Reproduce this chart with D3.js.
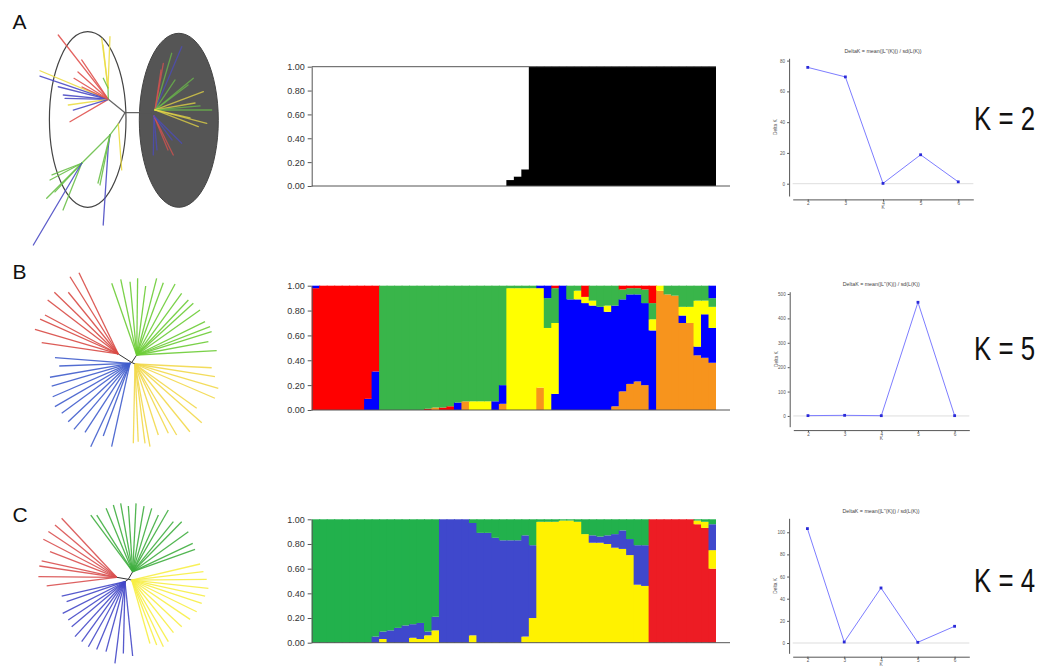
<!DOCTYPE html>
<html>
<head>
<meta charset="utf-8">
<script src="https://cdn.jsdelivr.net/npm/d3@7"></script>
<style>
  body { margin: 0; background: #fff; }
  svg { display: block; }
  text { font-family: "Liberation Sans", Arial, sans-serif; }
</style>
</head>
<body>
<svg id="fig" width="1040" height="666"></svg>
<script>
// ---------------- data ----------------
const panelLetters = ["A", "B", "C"];
const bestK = ["K = 2", "K = 5", "K = 4"];
const deltaTitle = "DeltaK = mean(|L''(K)|) / sd(L(K))";

// Evanno delta-K per number of clusters
const kValues = [2, 3, 4, 5, 6];
const deltaK_A = [75.6, 69.4, 0.2, 18.8, 1.2];
const deltaK_B = [1.4, 2.6, 1.2, 466, 1.3];
const deltaK_C = [103.3, 0.9, 49.7, 0.6, 15.1];
const deltaTicks_A = [0, 20, 40, 60, 80];
const deltaTicks_B = [0, 100, 200, 300, 400, 500];
const deltaTicks_C = [0, 20, 40, 60, 80, 100];

// membership coefficient axis
const qTicks = [0, 0.2, 0.4, 0.6, 0.8, 1.0];

// cluster colours
const colorsA = ["#ffffff", "#000000"];
const colorsB = ["#ff0000", "#39b54a", "#ffff00", "#0000ff", "#f7941d"];
const colorsC = ["#22b14c", "#3f48cc", "#fff200", "#ed1c24"];

// K = 2: membership in cluster 2 (black) for 54 individuals
const cluster2_A = [
  0, 0, 0, 0, 0, 0, 0, 0, 0, 0, 0, 0, 0, 0, 0, 0, 0, 0, 0, 0, 0, 0, 0, 0, 0, 0,
  0.05, 0.08, 0.14,
  1, 1, 1, 1, 1, 1, 1, 1, 1, 1, 1, 1, 1, 1, 1, 1, 1, 1, 1, 1, 1, 1, 1, 1, 1
];

// K = 5: [cluster, proportion] stacked from the bottom
// clusters: 0 red, 1 green, 2 yellow, 3 blue, 4 orange
const q_B = [
  [[0, .98], [3, .02]], [[0, 1]], [[0, 1]], [[0, 1]], [[0, 1]], [[0, 1]], [[0, 1]],
  [[3, .09], [0, .91]], [[3, .31], [0, .69]],
  [[1, 1]], [[1, 1]], [[1, 1]], [[1, 1]], [[1, 1]], [[1, 1]],
  [[0, .01], [1, .99]], [[4, .02], [1, .98]], [[0, .02], [1, .98]], [[0, .03], [1, .97]],
  [[3, .06], [1, .94]], [[4, .07], [1, .93]], [[2, .07], [1, .93]], [[2, .07], [1, .93]],
  [[2, .07], [1, .93]], [[3, .07], [1, .93]], [[4, .05], [3, .15], [1, .80]],
  [[2, .98], [1, .02]], [[2, .98], [1, .02]], [[2, .98], [1, .02]], [[2, .98], [1, .02]],
  [[4, .18], [2, .80], [3, .02]], [[2, .66], [1, .24], [3, .10]],
  [[3, .13], [2, .57], [1, .28], [0, .02]],
  [[3, 1]], [[3, .89], [1, .11]], [[3, .89], [2, .07], [1, .04]], [[3, .86], [2, .05], [0, .09]],
  [[3, .84], [2, .04], [1, .12]], [[3, .83], [1, .17]], [[3, .79], [2, .05], [1, .16]],
  [[4, .03], [3, .81], [1, .16]], [[4, .15], [3, .74], [1, .08], [0, .03]],
  [[4, .21], [3, .72], [1, .05], [0, .02]], [[4, .23], [3, .70], [1, .05], [0, .02]],
  [[4, .20], [3, .66], [1, .11], [0, .03]], [[3, .64], [2, .09], [1, .13], [0, .14]],
  [[4, .96], [2, .04]], [[4, .93], [1, .07]], [[4, .92], [1, .08]],
  [[4, .70], [3, .06], [2, .07], [1, .17]], [[4, .70], [2, .13], [1, .17]],
  [[4, .44], [3, .07], [2, .37], [1, .12]], [[4, .42], [3, .35], [2, .11], [1, .12]],
  [[4, .38], [3, .28], [2, .17], [1, .07], [3, .10]]
];

// K = 4: clusters 0 green, 1 blue, 2 yellow, 3 red
const q_C = [
  [[0, 1]], [[0, 1]], [[0, 1]], [[0, 1]], [[0, 1]], [[0, 1]], [[0, 1]], [[0, 1]],
  [[1, .05], [0, .95]], [[2, .03], [1, .06], [0, .91]], [[1, .10], [0, .90]],
  [[1, .12], [0, .88]], [[1, .14], [0, .86]], [[2, .04], [1, .11], [0, .85]],
  [[2, .03], [1, .13], [0, .84]], [[2, .06], [1, .03], [0, .91]], [[2, .10], [1, .11], [0, .79]],
  [[1, 1]], [[1, 1]], [[1, 1]], [[1, 1]],
  [[2, .06], [1, .91], [0, .03]], [[1, .89], [0, .11]], [[1, .89], [0, .11]],
  [[1, .85], [0, .15]], [[1, .83], [0, .17]], [[1, .83], [0, .17]], [[1, .83], [0, .17]],
  [[2, .05], [1, .82], [0, .13]], [[2, .20], [1, .59], [0, .21]],
  [[2, .98], [0, .02]], [[2, .98], [0, .02]], [[2, .98], [0, .02]], [[2, .99], [0, .01]],
  [[2, .99], [0, .01]], [[2, .98], [0, .02]],
  [[2, .88], [0, .12]], [[2, .81], [1, .06], [0, .13]], [[2, .81], [1, .05], [0, .14]],
  [[2, .80], [1, .07], [0, .13]], [[2, .77], [1, .11], [0, .12]], [[2, .76], [1, .15], [0, .09]],
  [[2, .71], [1, .13], [0, .16]], [[2, .47], [1, .32], [0, .21]], [[2, .46], [1, .33], [0, .21]],
  [[3, 1]], [[3, 1]], [[3, 1]], [[3, 1]], [[3, 1]], [[3, 1]],
  [[3, .96], [2, .03], [0, .01]], [[3, .93], [2, .05], [0, .02]],
  [[3, .60], [2, .15], [1, .21], [0, .04]]
];

// Neighbour-joining tree A: [parent node, angle (deg), branch length, group]
const treeA_edges = [
  [0, 0, 26.7, "k"], [0, 141.3, 21.4, "k"], [0, 239.3, 13.1, "k"],
  [3, 232.9, 13.8, "g"], [4, 225, 40, "g"],
  [5, 207.8, 35.8, "g"], [5, 225, 49.5, "g"], [5, 201.5, 31.9, "g"], [5, 227, 39.2, "g"],
  [5, 248.2, 50.3, "g"], [5, 239.4, 95, "b"],
  [4, 261.7, 11.8, "b"], [12, 266.3, 78.5, "b"], [4, 258.7, 51, "g"], [4, 256, 49.5, "g"],
  [3, 274.2, 46.1, "y"],
  [2, 127.9, 81.5, "r"], [2, 124.1, 47.5, "r"], [2, 148.5, 40.2, "r"], [2, 138, 40.8, "r"],
  [2, 210.3, 44.4, "r"], [2, 157.3, 74, "y"], [2, 161.2, 72.2, "b"], [2, 165.9, 51.6, "b"],
  [2, 174.5, 45.2, "b"], [2, 178.7, 43.3, "b"], [2, 188.1, 40.4, "y"], [2, 197, 36.6, "b"],
  [2, 91.5, 11.3, "g"], [29, 97.2, 50.1, "y"], [29, 87.8, 51.3, "y"], [29, 96.6, 43.3, "y"],
  [29, 115.8, 10.8, "g"], [2, 154.9, 29, "r"],
  [1, 39.3, 4.3, "k"], [1, 304.9, 4, "k"],
  [35, 73.6, 59.1, "g"], [35, 67.1, 68.7, "b"], [35, 79.9, 47.4, "r"], [35, 81.5, 40.4, "r"],
  [35, 56.3, 36.1, "g"], [35, 39.6, 49.7, "g"], [35, 37.1, 41.4, "g"], [35, 20.8, 51.7, "y"],
  [35, 9.9, 40.6, "y"], [35, 0, 56.7, "g"], [35, 5.1, 45.2, "g"], [35, 345.6, 53.4, "y"],
  [35, 338.9, 46.4, "y"], [35, 347.1, 35.9, "y"],
  [36, 269, 39, "b"], [36, 275, 34.1, "b"], [36, 296.3, 43.5, "r"], [36, 292.4, 36.8, "r"],
  [36, 315.4, 38.9, "b"], [36, 306.9, 30, "b"]
];

// Star-like trees B and C: hub [angle, length] and leaves [angle, length] per group
const treeB_hubs = { r: [147.6, 15.9], g: [56.3, 9], b: [205, 1.9], y: [335.6, 3.6] };
const treeB_red = [[115.8, 90.3], [122, 91.1], [129, 79.4], [136, 88.9], [142.6, 88.9],
  [152, 83], [156, 85.6], [163.5, 86.9], [171.6, 77.4]];
const treeB_green = [[109.2, 75.9], [101.9, 77.4], [95.2, 73.6], [89.3, 76.7], [82.6, 69.6],
  [75.4, 79.2], [69.8, 77.1], [61.6, 80.7], [53.9, 76.3], [46.8, 75.5], [42.4, 76.7],
  [35.4, 77.7], [26, 76], [21.1, 78.6], [17.3, 78.5], [10.5, 72.9], [3.1, 80.1]];
const treeB_blue = [[175.7, 75.2], [182.2, 70.8], [189.9, 81.2], [196.2, 81.5], [203.4, 84.2],
  [210, 86.7], [216.2, 84.6], [223.4, 85], [229.7, 86.6], [236.9, 82.4], [244.8, 92.2],
  [249.8, 77.4], [257.6, 85.4]];
const treeB_yellow = [[357.2, 76.8], [351, 81], [343.7, 86.8], [336.8, 87], [324.3, 76],
  [318.7, 88.9], [309, 87.2], [300.4, 82.3], [295.7, 76.9], [288.2, 74.7], [280.3, 84],
  [277.2, 80], [272.4, 77.8], [268.8, 79.3]];

const treeC_hubs = { r: [170.2, 11.8], g: [59.9, 8.8], b: [216, 4.1], y: [348, 3.5] };
const treeC_red = [[133, 80.7], [139.7, 80.9], [146.2, 82.2], [152.6, 82.6], [159, 71.4],
  [167.7, 76.8], [171.7, 78.2], [179.5, 78.3], [187, 70.5]];
const treeC_green = [[126.5, 70.5], [122.4, 67.1], [112.8, 68.7], [106.2, 69.4], [100, 69.4],
  [93.8, 65.8], [87.2, 68.4], [80.2, 66.6], [73.3, 66.1], [65.6, 62.2], [60, 71.2],
  [50.9, 64.5], [45.6, 70], [35.7, 68.5], [25.3, 66.4], [19.7, 66.2]];
const treeC_blue = [[192.8, 64.9], [198.9, 61.7], [207, 69.9], [214, 68.4], [220.2, 69.8],
  [227.7, 74.3], [234.2, 74], [240.6, 74.6], [247.3, 73.4], [254.8, 72.5], [263, 82.3],
  [268.7, 71.7], [275.9, 74.7]];
const treeC_yellow = [[13.2, 70.2], [6.6, 72.2], [0.5, 75], [353.8, 77.1], [347.7, 75.1],
  [341.6, 73.8], [334, 72.3], [326, 70.4], [317, 68.4], [308.4, 67.2], [300.7, 71.7],
  [295.4, 73.8], [291, 69.6], [286, 66]];

// ---------------- drawing ----------------
const svg = d3.select("#fig");
const rad = Math.PI / 180;
const branch = d3.scaleLinear().domain([0, 100]).range([0, 100]);
const polar = (p, a, l) => [p[0] + branch(l) * Math.cos(a * rad), p[1] - branch(l) * Math.sin(a * rad)];

// panel letters
const letterY = [29, 278.5, 521.5];
svg.selectAll("text.panel").data(panelLetters).join("text")
  .attr("class", "panel").attr("x", 12.5).attr("y", (d, i) => letterY[i])
  .attr("font-size", 21).attr("fill", "#111").text(d => d);

// ---- tree A ----
const treeAColors = { r: "#e0524f", y: "#ebdd45", b: "#4b4bc4", g: "#6cc04a", k: "#555" };
const gA = svg.append("g");
gA.append("ellipse").attr("cx", 87.7).attr("cy", 119.5).attr("rx", 38.3).attr("ry", 87.8)
  .attr("fill", "none").attr("stroke", "#444").attr("stroke-width", 1.2);
gA.append("ellipse").attr("cx", 178.8).attr("cy", 120.3).attr("rx", 39.5).attr("ry", 87)
  .attr("fill", "#555").attr("stroke", "#444").attr("stroke-width", 1);
const nodesA = [[125, 112.7]];
const segsA = [];
treeA_edges.forEach(([p, a, l, grp]) => {
  const from = nodesA[p];
  const to = polar(from, a, l);
  nodesA.push(to);
  segsA.push({ from, to, grp, right: from[0] > 140 || p === 1 });
});
gA.selectAll("line").data(segsA).join("line")
  .attr("x1", d => d.from[0]).attr("y1", d => d.from[1])
  .attr("x2", d => d.to[0]).attr("y2", d => d.to[1])
  .attr("stroke", d => treeAColors[d.grp])
  .attr("stroke-opacity", d => d.right && d.grp !== "k" ? 0.72 : 0.9)
  .attr("stroke-width", 1.3).attr("stroke-linecap", "round");

// ---- star trees ----
function starTree(center, hubs, groups, colors) {
  const g = svg.append("g");
  Object.keys(groups).forEach(k => {
    const hub = polar(center, hubs[k][0], hubs[k][1]);
    g.append("line").attr("x1", center[0]).attr("y1", center[1])
      .attr("x2", hub[0]).attr("y2", hub[1]).attr("stroke", "#333").attr("stroke-width", 1);
    g.selectAll(null).data(groups[k]).join("line")
      .attr("x1", hub[0]).attr("y1", hub[1])
      .attr("x2", d => polar(hub, d[0], d[1])[0]).attr("y2", d => polar(hub, d[0], d[1])[1])
      .attr("stroke", colors[k]).attr("stroke-width", 1.3).attr("stroke-opacity", 0.9);
  });
}
starTree([131.7, 362.5], treeB_hubs,
  { r: treeB_red, g: treeB_green, b: treeB_blue, y: treeB_yellow },
  { r: "#d84a45", g: "#6ccc35", b: "#3f5ccc", y: "#f2d84a" });
starTree([128.3, 579.3], treeC_hubs,
  { r: treeC_red, g: treeC_green, b: treeC_blue, y: treeC_yellow },
  { r: "#d95050", g: "#3fae3f", b: "#4448c8", y: "#f7ee45" });

// ---- STRUCTURE bar plots ----
const barX = d3.scaleBand().domain(d3.range(54)).range([311.7, 716]);
function structurePlot(rows, colors, top, bottom, topLine) {
  const y = d3.scaleLinear().domain([0, 1]).range([bottom, top]).clamp(true);
  const g = svg.append("g");
  const rects = [];
  rows.forEach((segs, i) => {
    let acc = 0;
    segs.forEach(([c, v]) => { rects.push({ i, c, y0: acc, y1: acc + v }); acc += v; });
  });
  const last = rows.length - 1;
  g.selectAll("rect").data(rects).join("rect")
    .attr("x", d => barX(d.i))
    .attr("width", d => barX.bandwidth() + (d.i === last ? 0 : 1))
    .attr("y", d => y(d.y1)).attr("height", d => Math.max(0, y(d.y0) - y(d.y1)))
    .attr("fill", d => colors[d.c]);
  if (topLine) {
    g.append("line").attr("x1", 311.7).attr("x2", 716).attr("y1", y(1)).attr("y2", y(1))
      .attr("stroke", "#555").attr("stroke-width", 1);
  }
  g.append("line").attr("x1", 311.7).attr("x2", 730).attr("y1", y(0)).attr("y2", y(0))
    .attr("stroke", "#555").attr("stroke-width", 1);
  const ax = g.append("g").attr("transform", "translate(311.7,0)")
    .call(d3.axisLeft(y).tickValues(qTicks).tickFormat(d3.format(".2f")).tickSize(4).tickSizeOuter(0));
  ax.select(".domain").attr("stroke", "#555");
  ax.selectAll(".tick line").attr("stroke", "#555");
  ax.selectAll(".tick text").attr("font-size", 9).attr("fill", "#333")
    .attr("font-family", "Liberation Sans, Arial, sans-serif").attr("x", -7);
}
structurePlot(cluster2_A.map(v => [[1, v], [0, 1 - v]]), colorsA, 66.7, 186, true);
structurePlot(q_B, colorsB, 285.7, 410, false);
structurePlot(q_C, colorsC, 519.3, 642.7, false);

// ---- delta K plots ----
function deltaPlot(vals, ticks, yDom, box) {
  const g = svg.append("g");
  const x = d3.scaleLinear().domain([1.6, 6.4]).range([box.x0, box.x1]);
  const y = d3.scaleLinear().domain(yDom).range([box.yBot, box.yTop]);
  const ySpine = box.x0 - 3.6, xSpine = box.yBot + 3.4;
  g.append("line").attr("x1", box.x0).attr("x2", box.x1).attr("y1", y(0)).attr("y2", y(0))
    .attr("stroke", "#d4d4d4").attr("stroke-width", 0.8);
  const ya = g.append("g").attr("transform", `translate(${ySpine},0)`)
    .call(d3.axisLeft(y).tickValues(ticks).tickFormat(d3.format("d")).tickSize(2).tickSizeOuter(0));
  const xa = g.append("g").attr("transform", `translate(0,${xSpine})`)
    .call(d3.axisBottom(x).tickValues(kValues).tickFormat(d3.format("d")).tickSize(2).tickSizeOuter(0));
  [ya, xa].forEach(a => {
    a.select(".domain").attr("stroke", "#555");
    a.selectAll(".tick line").attr("stroke", "#555");
    a.selectAll(".tick text").attr("font-size", 4.6).attr("fill", "#555")
      .attr("font-family", "Liberation Sans, Arial, sans-serif");
  });
  ya.selectAll(".tick text").attr("x", -4);
  xa.selectAll(".tick text").attr("y", 2.2);
  g.append("text").attr("x", (box.x0 + box.x1) / 2).attr("y", box.yTop - 5.5)
    .attr("text-anchor", "middle").attr("font-size", 5.3).attr("fill", "#444").text(deltaTitle);
  g.append("text").attr("x", (box.x0 + box.x1) / 2).attr("y", Math.min(xSpine + 9.6, 665.8))
    .attr("text-anchor", "middle").attr("font-size", 4.8).attr("fill", "#555").text("K");
  g.append("text").attr("transform", `translate(${ySpine - 12},${(box.yTop + box.yBot) / 2}) rotate(-90)`)
    .attr("text-anchor", "middle").attr("font-size", 4.8).attr("fill", "#555").text("Delta K");
  const pts = kValues.map((k, i) => [x(k), y(vals[i])]);
  g.append("path").attr("d", d3.line()(pts)).attr("fill", "none")
    .attr("stroke", "#7d7dff").attr("stroke-width", 1);
  g.selectAll("rect").data(pts).join("rect")
    .attr("x", d => d[0] - 1.4).attr("y", d => d[1] - 1.4).attr("width", 2.8).attr("height", 2.8)
    .attr("fill", "#2a2ad8");
}
deltaPlot(deltaK_A, deltaTicks_A, [-8, 81.5], { x0: 792.7, x1: 973.3, yTop: 58.3, yBot: 196 });
deltaPlot(deltaK_B, deltaTicks_B, [-44, 509.4], { x0: 793.3, x1: 969.3, yTop: 291.7, yBot: 426.7 });
deltaPlot(deltaK_C, deltaTicks_C, [-9.3, 112.6], { x0: 792.7, x1: 969.3, yTop: 518.3, yBot: 653.3 });

// ---- best K labels ----
const kLabelY = [130, 360, 592];
svg.selectAll("text.bestk").data(bestK).join("text")
  .attr("class", "bestk")
  .attr("transform", (d, i) => `translate(974,${kLabelY[i]}) scale(0.76,1)`)
  .attr("font-size", 34).attr("fill", "#111").text(d => d);
</script>
</body>
</html>
